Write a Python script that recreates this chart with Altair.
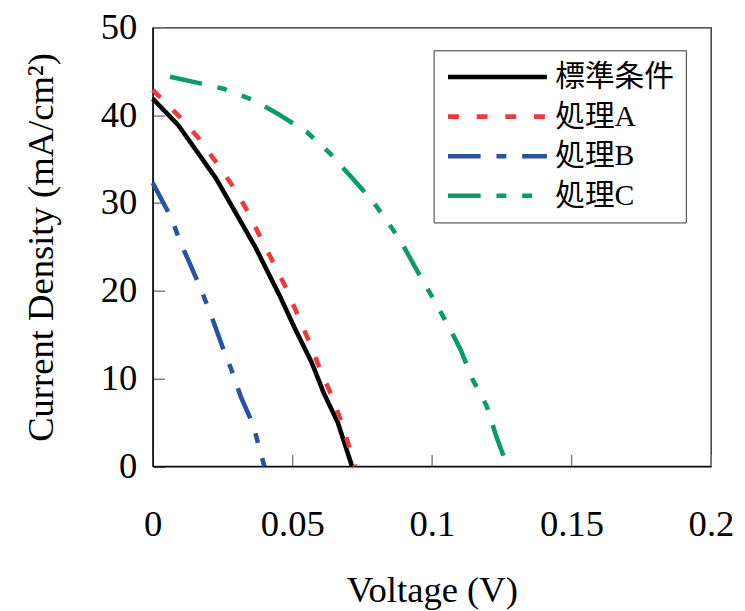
import altair as alt
import pandas as pd

# ---- data ----
series_names = ["標準条件", "処理A", "処理B", "処理C"]
series_colors = ["#000000", "#ee3a3c", "#2653a6", "#0b9b68"]
series_dashes = [[1, 0], [11, 18], [33, 16, 10, 16], [33, 16, 10, 16, 10, 16]]

std_v = [0.0, 0.0091, 0.0227, 0.0369, 0.0457, 0.0511, 0.0570, 0.0612, 0.0663, 0.0714]
std_j = [41.9, 38.9, 32.8, 24.9, 19.3, 15.6, 11.8, 8.4, 5.0, 0.0]

a_v = [0.0, 0.0091, 0.0162, 0.0233, 0.0292, 0.0339, 0.0386, 0.0434, 0.0481, 0.0520,
       0.0562, 0.0604, 0.0646, 0.0680, 0.0725]
a_j = [42.9, 40.0, 37.5, 34.4, 31.7, 29.1, 26.1, 23.1, 20.1, 17.2,
       14.1, 10.7, 7.7, 4.7, 0.0]

b_v = [0.0, 0.0067, 0.0097, 0.0133, 0.0174, 0.0215, 0.0249, 0.0282, 0.0316, 0.0359, 0.0400]
b_j = [32.3, 28.3, 25.7, 23.1, 20.1, 16.7, 13.7, 11.0, 7.9, 4.8, 0.0]

c_v = [0.0062, 0.0162, 0.0257, 0.0363, 0.0457, 0.0552, 0.0634, 0.0705, 0.0788, 0.0823,
       0.0888, 0.0947, 0.1005, 0.1061, 0.1103, 0.1146, 0.1196, 0.1230, 0.1270]
c_j = [44.4, 43.7, 43.0, 41.7, 40.0, 38.1, 35.7, 33.2, 30.2, 28.7,
       25.7, 22.3, 19.1, 15.9, 13.3, 9.9, 6.9, 3.5, 0.0]

x_ticks = [0, 0.05, 0.1, 0.15, 0.2]
y_ticks = [0, 10, 20, 30, 40, 50]

rows = []
for name, vs, js in zip(series_names, [std_v, a_v, b_v, c_v], [std_j, a_j, b_j, c_j]):
    for i, (v, j) in enumerate(zip(vs, js)):
        rows.append({"series": name, "V": v, "J": j, "order": i})
df = pd.DataFrame(rows)

W, H = 564.4, 443.5
TICK = 12
SERIF = "'Liberation Serif', 'Times New Roman', serif"
CJK = "'Liberation Serif', 'Noto Sans CJK JP', serif"

chart = (
    alt.Chart(df)
    .mark_line(strokeWidth=4.6, strokeCap="butt", strokeJoin="round")
    .encode(
        x=alt.X(
            "V:Q",
            scale=alt.Scale(domain=[0, 0.2], nice=False, zero=False),
            axis=alt.Axis(
                title="Voltage (V)",
                values=x_ticks,
                format="~g",
                ticks=False,
                grid=True,
                gridDash=[TICK, 600],
                gridDashOffset=612 - (H - TICK),
                gridColor="#808080",
                gridWidth=1.5,
                labelPadding=41,
                titlePadding=31,
            ),
        ),
        y=alt.Y(
            "J:Q",
            scale=alt.Scale(domain=[0, 50], nice=False),
            axis=alt.Axis(
                title="Current Density (mA/cm²)",
                values=y_ticks,
                ticks=False,
                grid=True,
                gridDash=[TICK, 600],
                gridColor="#808080",
                gridWidth=1.5,
                labelPadding=16,
                titlePadding=40,
            ),
        ),
        color=alt.Color(
            "series:N",
            scale=alt.Scale(domain=series_names, range=series_colors),
            legend=alt.Legend(title=None),
        ),
        strokeDash=alt.StrokeDash(
            "series:N",
            scale=alt.Scale(domain=series_names, range=series_dashes),
            legend=alt.Legend(title=None),
        ),
        order=alt.Order("order:Q"),
    )
    .properties(
        width=W,
        height=H,
        autosize=alt.AutoSizeParams(type="none"),
        padding={"left": 146.3, "top": 16.5, "right": 26.3, "bottom": 143},
    )
    .configure_view(stroke="#222222", strokeWidth=1.3)
    .configure_axis(
        labelFont=SERIF,
        labelFontSize=37,
        labelColor="#000000",
        titleFont=SERIF,
        titleFontSize=37,
        titleFontWeight="normal",
        titleColor="#000000",
        domainColor="#000000",
        domainWidth=1.3,
        labelFlush=False,
        labelOverlap=False,
    )
    .configure_legend(
        orient="none",
        legendX=284,
        legendY=23,
        direction="vertical",
        strokeColor="#333333",
        fillColor="#ffffff",
        padding=12,
        symbolType="stroke",
        symbolSize=10000,
        symbolStrokeWidth=4.6,
        clipHeight=30,
        rowPadding=10,
        labelFont=CJK,
        labelFontSize=30,
        labelColor="#000000",
        labelOffset=6,
        labelLimit=300,
    )
)

chart.save("out.html", embed_options={"renderer": "svg", "actions": False})
